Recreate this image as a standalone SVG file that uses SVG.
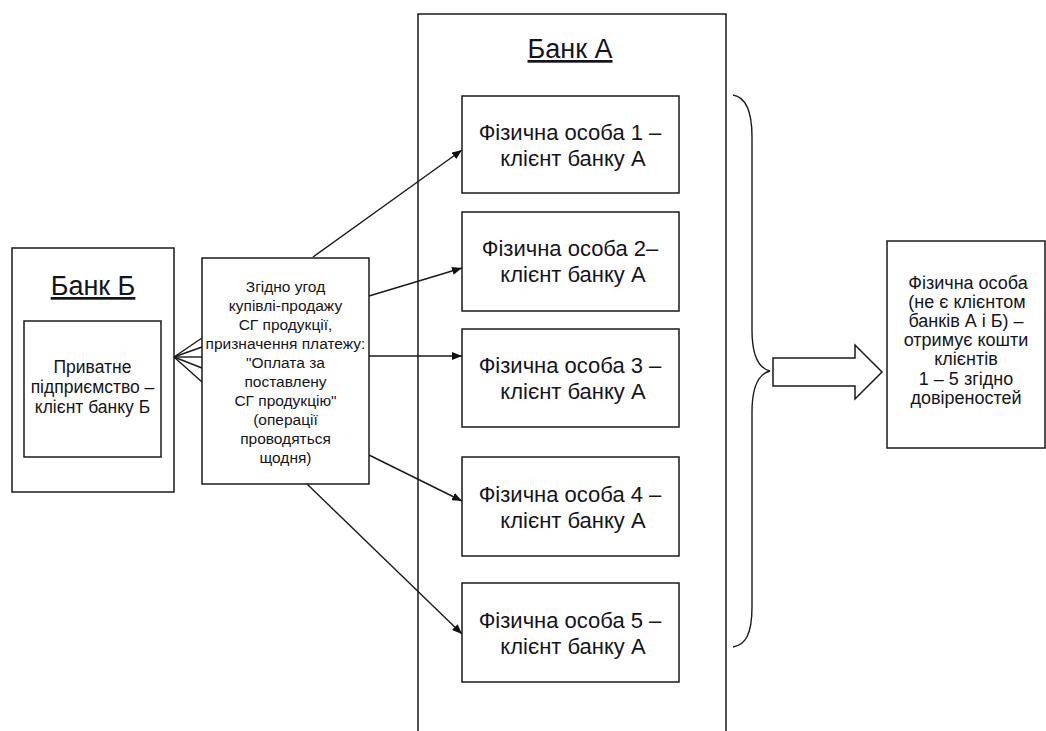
<svg xmlns="http://www.w3.org/2000/svg" width="1046" height="731" viewBox="0 0 1046 731">
<defs>
<marker id="ah" viewBox="0 0 10 8" refX="10" refY="4" markerWidth="10" markerHeight="8" markerUnits="userSpaceOnUse" orient="auto">
<path d="M0,0 L10,4 L0,8 z" fill="#111"/>
</marker>
<style>
.box{fill:#fff;stroke:#1a1a1a;stroke-width:1.5}
.ln{fill:none;stroke:#1a1a1a;stroke-width:1.4}
text{font-family:"Liberation Sans",Arial,sans-serif;fill:#141420;text-anchor:middle}
.title{font-size:27px;text-decoration:underline}
.p{font-size:22px}
.m{font-size:15.5px}
.l{font-size:17.5px}
.r{font-size:18px}
</style>
</defs>
<rect width="1046" height="731" fill="#fff"/>
<g id="bank-a">
<rect class="box" x="418" y="14" width="308" height="740"/>
<text class="title" x="570" y="58">Банк А</text>
</g>
<g id="bank-b">
<rect class="box" x="12" y="248" width="162" height="244"/>
<text class="title" x="93" y="295">Банк Б</text>
</g>
<g id="private-enterprise">
<rect class="box" x="24" y="321" width="137" height="136"/>
<text class="l" x="92.5" y="373">Приватне</text>
<text class="l" x="92.5" y="393">підприємство –</text>
<text class="l" x="92.5" y="413">клієнт банку Б</text>
</g>
<g id="connectors">
<line class="ln" x1="174" y1="357" x2="202" y2="338"/>
<line class="ln" x1="174" y1="357" x2="202" y2="347"/>
<line class="ln" x1="174" y1="357" x2="202" y2="357"/>
<line class="ln" x1="174" y1="357" x2="202" y2="368"/>
<line class="ln" x1="174" y1="357" x2="202" y2="382"/>
<line class="ln" x1="313" y1="257" x2="462" y2="150" marker-end="url(#ah)"/>
<line class="ln" x1="369" y1="296" x2="462" y2="268" marker-end="url(#ah)"/>
<line class="ln" x1="369" y1="356" x2="462" y2="356" marker-end="url(#ah)"/>
<line class="ln" x1="369" y1="455" x2="462" y2="501" marker-end="url(#ah)"/>
<line class="ln" x1="307" y1="484" x2="462" y2="634" marker-end="url(#ah)"/>
<path class="ln" d="M733,95 C745,97 752,110 752,137 L752,330 C752,355 758,368 770,371 C758,374 752,387 752,412 L752,607 C752,635 745,645 733,647"/>
<polygon class="box" points="773,358 855,358 855,345 882,372 855,399 855,386 773,386"/>
</g>
<g id="agreement">
<rect class="box" x="202" y="258" width="167" height="226"/>
<text class="m" x="285.5" y="292">Згідно угод</text>
<text class="m" x="285.5" y="311">купівлі-продажу</text>
<text class="m" x="285.5" y="330">СГ продукції,</text>
<text class="m" x="285.5" y="349">призначення платежу:</text>
<text class="m" x="285.5" y="368">"Оплата за</text>
<text class="m" x="285.5" y="387">поставлену</text>
<text class="m" x="285.5" y="406">СГ продукцію"</text>
<text class="m" x="285.5" y="425">(операції</text>
<text class="m" x="285.5" y="444">проводяться</text>
<text class="m" x="285.5" y="463">щодня)</text>
</g>
<g id="person-1">
<rect class="box" x="462" y="96" width="217" height="97"/>
<text class="p" x="570" y="140">Фізична особа 1 –</text>
<text class="p" x="573" y="166">клієнт банку А</text>
</g>
<g id="person-2">
<rect class="box" x="462" y="212" width="217" height="99"/>
<text class="p" x="570" y="256">Фізична особа 2–</text>
<text class="p" x="573" y="282">клієнт банку А</text>
</g>
<g id="person-3">
<rect class="box" x="462" y="329" width="217" height="98"/>
<text class="p" x="570" y="373">Фізична особа 3 –</text>
<text class="p" x="573" y="399">клієнт банку А</text>
</g>
<g id="person-4">
<rect class="box" x="462" y="457" width="217" height="99"/>
<text class="p" x="570" y="502">Фізична особа 4 –</text>
<text class="p" x="573" y="528">клієнт банку А</text>
</g>
<g id="person-5">
<rect class="box" x="462" y="583" width="217" height="99"/>
<text class="p" x="570" y="628">Фізична особа 5 –</text>
<text class="p" x="573" y="654">клієнт банку А</text>
</g>
<g id="recipient">
<rect class="box" x="887" y="241" width="158" height="207"/>
<text class="r" x="968" y="289">Фізична особа</text>
<text class="r" x="967" y="308">(не є клієнтом</text>
<text class="r" x="966" y="327">банків А і Б) –</text>
<text class="r" x="966" y="346">отримує кошти</text>
<text class="r" x="966" y="365">клієнтів</text>
<text class="r" x="966" y="385">1 – 5 згідно</text>
<text class="r" x="966" y="404">довіреностей</text>
</g>
</svg>
